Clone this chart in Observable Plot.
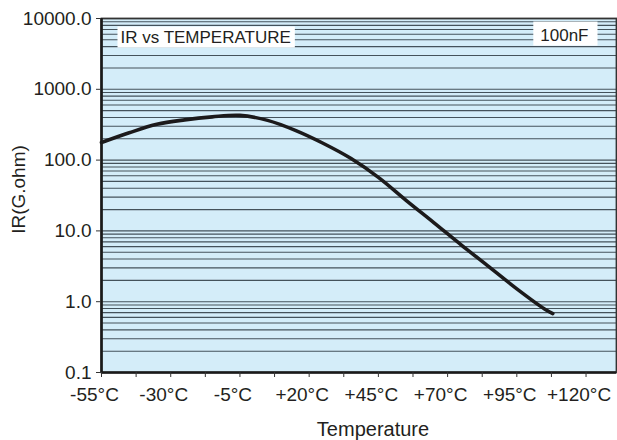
<!DOCTYPE html>
<html>
<head>
<meta charset="utf-8">
<script src="https://cdn.jsdelivr.net/npm/d3@7"></script>
<script src="https://cdn.jsdelivr.net/npm/@observablehq/plot@0.6"></script>
<style>
  html, body { margin: 0; padding: 0; background: #fff; }
  #chart svg { font-family: "Liberation Sans", Arial, Helvetica, sans-serif; }
</style>
</head>
<body>
<div id="chart"></div>
<script>
// Data
const temperatures = [-55, -45, -35, -25, -15, -5, 5, 15, 25, 35, 45, 55, 65, 75, 85, 95, 105, 108];
const irValues = [177, 243, 320, 370, 408, 428, 364, 263, 173, 106, 57, 27, 13.1, 6.3, 3.1, 1.52, 0.79, 0.68];

const xLabelTicks = [-55, -30, -5, 20, 45, 70, 95, 120];
const xMinorTicks = [-55, -42.5, -30, -17.5, -5, 7.5, 20, 32.5, 45, 57.5, 70, 82.5, 95, 107.5, 120];
const yLabelTicks = [0.1, 1, 10, 100, 1000, 10000];
const gridMultipliers = [1, 2, 3, 4, 5, 6, 7, 8, 9];
const gridDecades = [0.1, 1, 10, 100, 1000];

const titleText = "IR vs TEMPERATURE";
const capText = "100nF";
const xTitle = "Temperature";
const yTitle = "IR(G.ohm)";

const series = temperatures.map((t, i) => ({t, v: irValues[i]}));
const gridValues = gridDecades.flatMap(d => gridMultipliers.map(m => +(d * m).toPrecision(3))).concat([10000]);

const fmtX = d => (d > 0 ? "+" : "") + d + "°C";
const fmtY = d => d.toFixed(1);

const chart = Plot.plot({
  width: 617,
  height: 440,
  marginLeft: 101,
  marginRight: 1,
  marginTop: 18,
  marginBottom: 68,
  style: {background: "#fff", color: "#231f20", fontFamily: "Liberation Sans, Arial, sans-serif"},
  x: {domain: [-55, 131]},
  y: {type: "log", domain: [0.1, 10000]},
  marks: [
    Plot.frame({fill: "#d4edf9", stroke: "none"}),
    Plot.ruleY(gridValues, {stroke: "#44525b", strokeWidth: 1.1}),
    Plot.line(series, {x: "t", y: "v", stroke: "#1c1a1b", strokeWidth: 3.6, curve: "catmull-rom"}),
    Plot.text([titleText], {frameAnchor: "top-left", textAnchor: "start", lineAnchor: "top", dx: 19, dy: 12, fontSize: 17, fill: "#231f20", className: "boxed-a"}),
    Plot.text([capText], {frameAnchor: "top-right", textAnchor: "end", lineAnchor: "top", dx: -28, dy: 10, fontSize: 17, fill: "#231f20", className: "boxed-b"}),
    Plot.frame({stroke: "#333", strokeWidth: 1.8}),
    Plot.ruleX([-55], {stroke: "#1a1a1a", strokeWidth: 2.6}),
    Plot.ruleY([0.1], {stroke: "#1a1a1a", strokeWidth: 2.6}),
    Plot.axisY(yLabelTicks, {tickSize: 5, tickPadding: 5, fontSize: 19, tickFormat: fmtY, label: null, stroke: "#333"}),
    Plot.axisX(xMinorTicks, {tickSize: 5, tickFormat: () => "", label: null, stroke: "#333"}),
    Plot.axisX(xLabelTicks, {tickSize: 5, tickPadding: 10, fontSize: 19, tickFormat: fmtX, dx: -7, label: null, stroke: "none"}),
    Plot.text([xTitle], {frameAnchor: "bottom", lineAnchor: "top", dy: 49, dx: 14, fontSize: 20, fill: "#231f20"}),
    Plot.text([yTitle], {frameAnchor: "left", rotate: -90, textAnchor: "middle", lineAnchor: "middle", dx: -83, dy: -6, fontSize: 19, fill: "#231f20"})
  ]
});

document.getElementById("chart").appendChild(chart);

// White boxes behind the two annotation texts
function boxBehind(cls, padL, padR, padT, padB) {
  const g = chart.querySelector("g." + cls) || chart.querySelector("." + cls);
  if (!g) return;
  const t = g.querySelector("text");
  if (!t) return;
  const bb = t.getBBox();
  const r = document.createElementNS("http://www.w3.org/2000/svg", "rect");
  r.setAttribute("x", bb.x - padL);
  r.setAttribute("y", bb.y - padT);
  r.setAttribute("width", bb.width + padL + padR);
  r.setAttribute("height", bb.height + padT + padB);
  r.setAttribute("fill", "#fff");
  const tr = t.getAttribute("transform");
  if (tr) r.setAttribute("transform", tr);
  t.parentNode.insertBefore(r, t);
}
boxBehind("boxed-a", 3, 4, 1, 1);
boxBehind("boxed-b", 7, 9, 4, 1);
</script>
</body>
</html>
